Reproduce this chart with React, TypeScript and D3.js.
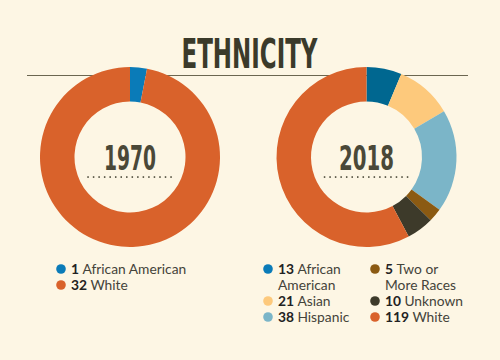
import React from "react";
import * as d3 from "d3";

const title = "ETHNICITY";
const years = ["1970", "2018"];
const labels1970 = ["African American", "White"];
const values1970 = [1, 32];
const colors1970 = ["#0a7bb8", "#d9622b"];
const labels2018 = ["African American", "Asian", "Hispanic", "Two or More Races", "Unknown", "White"];
const values2018 = [13, 21, 38, 5, 10, 119];
const colors2018 = ["#006790", "#fdc97c", "#7bb5c8", "#8b5a12", "#3d3a2a", "#d9622b"];
const legendDots2018 = ["#0a7bb8", "#fdc97c", "#7bb5c8", "#8b5a12", "#3d3a2a", "#d9622b"];

const W = 500, H = 360;
const BG = "#fdf6e4";
const DARK = "#3b3a2a";
const condensed = "'Liberation Sans Narrow', 'DejaVu Sans Condensed', 'Roboto', sans-serif";
const sans = "Lato, 'Open Sans', sans-serif";

function Donut({ cx, cy, values, colors, year, yearWidth }: any) {
  const pie = d3.pie<number>().sort(null).value((d) => d);
  const arc = d3.arc<d3.PieArcDatum<number>>().innerRadius(55.5).outerRadius(90);
  const arcs = pie(values);
  const dots = d3.range(0, 16);
  const dotX = d3.scaleLinear().domain([0, 15]).range([-42, 41]);
  return (
    <g transform={`translate(${cx},${cy})`}>
      {arcs.map((a, i) => (
        <path key={i} d={arc(a) as string} fill={colors[i]} />
      ))}
      <text x={0} y={13} textAnchor="middle" fontFamily={condensed} fontWeight="bold"
        fontSize={34} fill="#4a4838" textLength={yearWidth} lengthAdjust="spacingAndGlyphs">{year}</text>
      {dots.map((d) => (
        <rect key={d} x={dotX(d) - 0.7} y={19.3} width={1.5} height={1.5} fill="#3b3a2a" />
      ))}
    </g>
  );
}

function LegendItem({ x, y, color, num, lines }: any) {
  return (
    <g>
      <circle cx={x} cy={y - 5} r={4.8} fill={color} />
      {lines.map((ln: string, i: number) => (
        <text key={i} x={x + 10} y={y + i * 16} fontFamily={sans} fontSize={13.8} fill="#44433a">
          {i === 0 ? <tspan fontWeight="bold" fill="#222">{num} </tspan> : null}
          {ln}
        </text>
      ))}
    </g>
  );
}

export default function App() {
  return (
    <svg width={W} height={H} style={{ position: "absolute", left: 0, top: 0 }}>
      <rect width={W} height={H} fill={BG} />
      <text x={249.5} y={68} textAnchor="middle" fontFamily={condensed} fontWeight="bold"
        fontSize={40} fill={DARK} textLength={136} lengthAdjust="spacingAndGlyphs">{title}</text>
      <line x1={27} x2={468} y1={75.5} y2={75.5} stroke="#6b6650" strokeWidth={1.2} />
      <Donut cx={130} cy={157} values={values1970} colors={colors1970} year={years[0]} yearWidth={52} />
      <Donut cx={366.5} cy={157} values={values2018} colors={colors2018} year={years[1]} yearWidth={55} />
      <LegendItem x={61} y={274} color={colors1970[0]} num={values1970[0]} lines={[labels1970[0]]} />
      <LegendItem x={61} y={290} color={colors1970[1]} num={values1970[1]} lines={[labels1970[1]]} />
      <LegendItem x={268} y={274} color={legendDots2018[0]} num={values2018[0]} lines={["African", "American"]} />
      <LegendItem x={268} y={306} color={legendDots2018[1]} num={values2018[1]} lines={[labels2018[1]]} />
      <LegendItem x={268} y={322} color={legendDots2018[2]} num={values2018[2]} lines={[labels2018[2]]} />
      <LegendItem x={375} y={274} color={legendDots2018[3]} num={values2018[3]} lines={["Two or", "More Races"]} />
      <LegendItem x={375} y={306} color={legendDots2018[4]} num={values2018[4]} lines={[labels2018[4]]} />
      <LegendItem x={375} y={322} color={legendDots2018[5]} num={values2018[5]} lines={[labels2018[5]]} />
    </svg>
  );
}
